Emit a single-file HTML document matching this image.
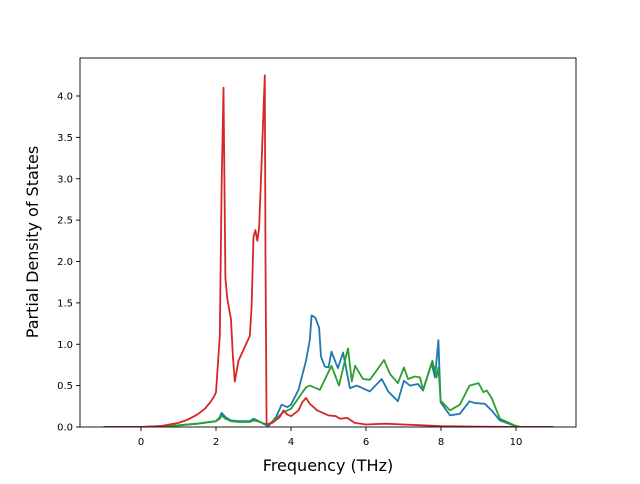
<!DOCTYPE html>
<html><head><meta charset="utf-8"><style>
body{margin:0;background:#fff;font-family:"DejaVu Sans","Liberation Sans",sans-serif}
</style></head><body>
<svg id="chart" width="640" height="480" xmlns="http://www.w3.org/2000/svg" font-family="DejaVu Sans, Liberation Sans, sans-serif"></svg>
<script>
const xTicks=[0,2,4,6,8,10];
const yTicks=[0.0,0.5,1.0,1.5,2.0,2.5,3.0,3.5,4.0];
const redX=[-1,0,0.5,1,1.25,1.5,1.7,1.85,1.95,2.0,2.1,2.15,2.2,2.25,2.3,2.4,2.45,2.5,2.6,2.8,2.9,2.95,3.0,3.05,3.1,3.15,3.2,3.3,3.32,3.35,3.5,3.7,3.8,3.9,4.0,4.2,4.3,4.4,4.5,4.7,5.0,5.2,5.3,5.5,5.6,5.7,6,6.5,7,7.5,8,9,10,11];
const redY=[0,0,0.01,0.05,0.09,0.15,0.22,0.3,0.37,0.42,1.1,2.9,4.1,1.8,1.55,1.3,0.85,0.55,0.8,1.0,1.1,1.45,2.3,2.38,2.25,2.4,3.0,4.25,2.0,0.03,0.05,0.12,0.2,0.15,0.13,0.2,0.3,0.35,0.28,0.2,0.14,0.13,0.1,0.11,0.08,0.05,0.03,0.04,0.03,0.02,0.01,0.005,0,0];
const blueX=[-1,0,1,1.5,2.0,2.1,2.15,2.25,2.4,2.6,2.9,3.0,3.1,3.3,3.4,3.6,3.75,3.9,4.0,4.2,4.4,4.5,4.55,4.65,4.75,4.8,4.9,5.0,5.08,5.25,5.39,5.57,5.75,6.1,6.42,6.59,6.85,7.01,7.17,7.39,7.52,7.75,7.84,7.93,7.99,8.24,8.5,8.76,8.9,9.17,9.35,9.57,9.92,10.1,11];
const blueY=[0,0,0.02,0.04,0.07,0.12,0.17,0.12,0.08,0.07,0.07,0.1,0.08,0.03,0.01,0.12,0.27,0.24,0.27,0.45,0.8,1.05,1.35,1.32,1.2,0.85,0.73,0.72,0.91,0.71,0.9,0.47,0.5,0.43,0.58,0.43,0.31,0.56,0.5,0.52,0.44,0.77,0.6,1.05,0.3,0.14,0.16,0.31,0.29,0.28,0.2,0.08,0.02,0,0];
const greenX=[-1,0,1,1.5,2.0,2.1,2.15,2.25,2.4,2.6,2.9,3.0,3.1,3.3,3.4,3.6,3.8,4.0,4.2,4.4,4.5,4.77,5.08,5.28,5.4,5.52,5.62,5.71,5.92,6.1,6.28,6.48,6.64,6.85,7.01,7.12,7.3,7.44,7.52,7.77,7.88,7.93,7.99,8.24,8.5,8.76,9.0,9.13,9.22,9.35,9.57,9.96,10.1,11];
const greenY=[0,0,0.02,0.04,0.07,0.1,0.14,0.1,0.07,0.06,0.06,0.08,0.07,0.04,0.03,0.1,0.18,0.22,0.35,0.48,0.5,0.45,0.74,0.5,0.73,0.95,0.55,0.74,0.58,0.57,0.68,0.81,0.64,0.53,0.72,0.58,0.61,0.6,0.45,0.8,0.6,0.72,0.32,0.2,0.27,0.5,0.53,0.42,0.44,0.35,0.1,0.02,0,0];
const L=80,R=576,T=58,B=427;
const xs=v=>141+v*37.5, ys=v=>427-v*82.75;
const svg=document.getElementById('chart');const NS='http://www.w3.org/2000/svg';
function mk(t,a,p){const e=document.createElementNS(NS,t);for(const k in a)e.setAttribute(k,a[k]);(p||svg).appendChild(e);return e;}
const clip=mk('clipPath',{id:'c'});mk('rect',{x:L,y:T,width:R-L,height:B-T},clip);
function series(X,Y,c,n){const d=X.map((x,i)=>(i?'L':'M')+xs(x).toFixed(1)+','+ys(Y[i]).toFixed(1)).join('');
const p=mk('path',{d:d,fill:'none',stroke:c,'stroke-width':1.8,'clip-path':'url(#c)','stroke-linejoin':'round'});

}
series(blueX,blueY,'#1f77b4','series-blue');
series(greenX,greenY,'#2ca02c','series-green');
series(redX,redY,'#d62728','series-red');
const f=mk('rect',{x:L,y:T,width:R-L,height:B-T,fill:'none',stroke:'#000','stroke-width':0.9});


xTicks.forEach(v=>{const x=xs(v);mk('line',{x1:x,x2:x,y1:B,y2:B+4,stroke:'#000','stroke-width':0.9});
const t=mk('text',{x:x,y:B+18,'text-anchor':'middle','font-size':10,fill:'#000'});t.textContent=v;

});
yTicks.forEach(v=>{const y=ys(v);mk('line',{x1:L-4,x2:L,y1:y,y2:y,stroke:'#000','stroke-width':0.9});
const t=mk('text',{x:L-7,y:y+3.5,'text-anchor':'end','font-size':10,fill:'#000'});t.textContent=v.toFixed(1);

});
const xt=mk('text',{x:328,y:471,'text-anchor':'middle','font-size':16});xt.textContent='Frequency (THz)';


const yt=mk('text',{x:38,y:242,'text-anchor':'middle','font-size':16,transform:'rotate(-90 38 242)'});yt.textContent='Partial Density of States';


</script>
</body></html>
